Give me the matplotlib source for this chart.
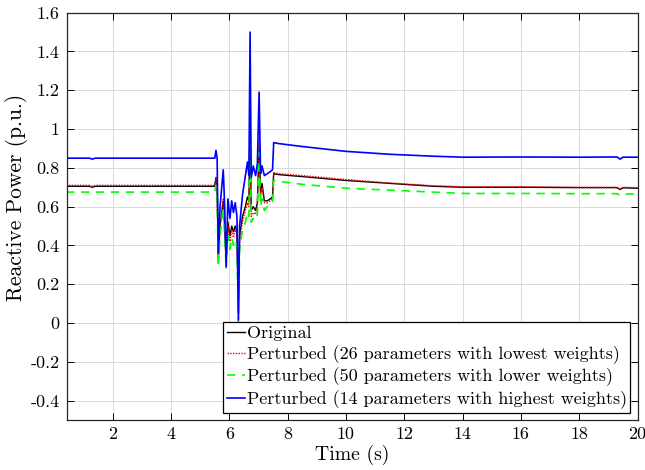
import matplotlib
matplotlib.use('Agg')
from matplotlib import pyplot as plt

plt.rcParams['font.family'] = 'serif'
plt.rcParams['font.serif'] = ['cmr10', 'DejaVu Serif']
plt.rcParams['mathtext.fontset'] = 'cm'
plt.rcParams['axes.unicode_minus'] = False
plt.rcParams['axes.formatter.use_mathtext'] = False

# time knots (s)
time_s = [0.4, 1.2, 1.3, 1.4, 5.5, 5.54, 5.58, 5.62, 5.68, 5.79, 5.84, 5.89, 5.95,
          6.02, 6.08, 6.14, 6.2, 6.26, 6.31, 6.35, 6.45, 6.55, 6.62, 6.67, 6.71,
          6.75, 6.82, 6.9, 6.96, 7.02, 7.07, 7.12, 7.2, 7.3, 7.4, 7.48, 7.52, 7.7,
          8.5, 10, 11.5, 13, 14, 16, 18, 19.3, 19.4, 19.5, 20]

q_original = [0.705, 0.705, 0.70, 0.705, 0.705, 0.75, 0.70, 0.33, 0.50, 0.63, 0.50, 0.32, 0.52,
              0.45, 0.50, 0.47, 0.50, 0.47, 0.08, 0.45, 0.55, 0.60, 0.65, 0.63, 1.02,
              0.58, 0.60, 0.58, 0.62, 0.90, 0.67, 0.72, 0.63, 0.63, 0.64, 0.65, 0.77, 0.765,
              0.755, 0.735, 0.72, 0.705, 0.70, 0.70, 0.698, 0.698, 0.688, 0.697, 0.695]

q_lowest = [0.71, 0.71, 0.705, 0.71, 0.71, 0.75, 0.70, 0.31, 0.50, 0.64, 0.48, 0.30, 0.50,
            0.42, 0.48, 0.44, 0.48, 0.45, 0.05, 0.42, 0.52, 0.58, 0.62, 0.60, 1.06,
            0.55, 0.57, 0.56, 0.60, 0.95, 0.65, 0.70, 0.62, 0.62, 0.63, 0.64, 0.775, 0.77,
            0.76, 0.74, 0.722, 0.708, 0.703, 0.703, 0.70, 0.70, 0.69, 0.70, 0.698]

q_lower = [0.675, 0.675, 0.67, 0.675, 0.675, 0.71, 0.67, 0.29, 0.45, 0.60, 0.45, 0.28, 0.45,
           0.38, 0.44, 0.40, 0.43, 0.40, 0.0, 0.38, 0.48, 0.52, 0.57, 0.55, 1.08,
           0.52, 0.54, 0.53, 0.56, 0.88, 0.60, 0.64, 0.58, 0.60, 0.61, 0.62, 0.735, 0.73,
           0.715, 0.695, 0.685, 0.675, 0.668, 0.668, 0.667, 0.667, 0.657, 0.665, 0.665]

q_highest = [0.85, 0.85, 0.845, 0.85, 0.85, 0.89, 0.85, 0.36, 0.60, 0.79, 0.60, 0.29, 0.64,
             0.54, 0.63, 0.57, 0.62, 0.55, 0.016, 0.50, 0.66, 0.76, 0.83, 0.76, 1.50,
             0.75, 0.81, 0.76, 0.82, 1.19, 0.77, 0.81, 0.76, 0.77, 0.78, 0.79, 0.93, 0.925,
             0.91, 0.885, 0.87, 0.86, 0.855, 0.856, 0.855, 0.856, 0.845, 0.855, 0.855]

labels = ['Original',
          'Perturbed (26 parameters with lowest weights)',
          'Perturbed (50 parameters with lower weights)',
          'Perturbed (14 parameters with highest weights)']

fig = plt.figure(figsize=(6.45, 4.7), dpi=100)
ax = fig.add_axes([0.1034, 0.1064, 0.885, 0.8666])

ax.plot(time_s, q_original, color='black', lw=1.0, label=labels[0])
ax.plot(time_s, q_lowest, color='red', lw=1.0, ls=(0, (1, 1)), label=labels[1])
ax.plot(time_s, q_lower, color=(0, 1, 0), lw=1.2, ls=(0, (5, 4)), label=labels[2])
ax.plot(time_s, q_highest, color='blue', lw=1.2, label=labels[3])

ax.set_xlim(0.42, 20)
ax.set_ylim(-0.5, 1.6)
ax.set_xticks([2, 4, 6, 8, 10, 12, 14, 16, 18, 20])
ax.set_yticks([-0.4, -0.2, 0, 0.2, 0.4, 0.6, 0.8, 1, 1.2, 1.4, 1.6])
ax.set_yticklabels(['-0.4', '-0.2', '0', '0.2', '0.4', '0.6', '0.8', '1', '1.2', '1.4', '1.6'])
ax.tick_params(direction='in', top=True, right=True, length=5, width=0.7,
               labelsize=13, pad=5)
ax.grid(True, color='#d9d9d9', lw=0.7)
for s in ax.spines.values():
    s.set_linewidth(0.9)
    s.set_color('#262626')

ax.set_xlabel('Time (s)', fontsize=14.2, labelpad=2)
ax.set_ylabel('Reactive Power (p.u.)', fontsize=15.5)
ax.yaxis.set_label_coords(-0.068, 0.547)

leg = ax.legend(loc='lower right', fontsize=13, fancybox=False, framealpha=1,
                edgecolor='black', handlelength=1.0, handletextpad=0.1,
                borderpad=0.2, labelspacing=0.22, borderaxespad=0.4)
leg.get_frame().set_linewidth(0.9)

fig.savefig('out.png', dpi=100)
